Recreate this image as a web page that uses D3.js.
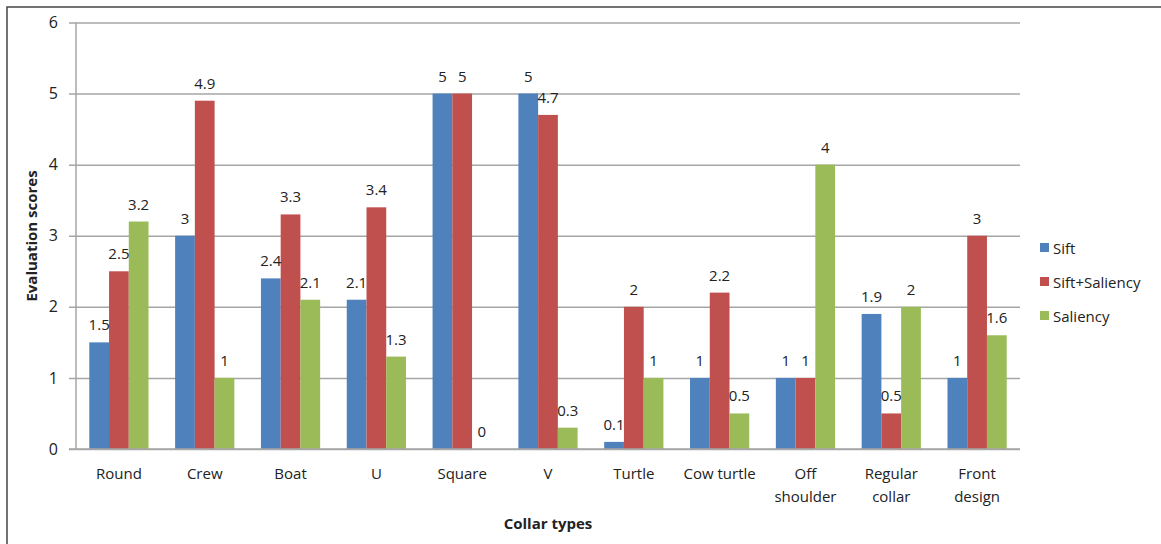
<!DOCTYPE html>
<html>
<head>
<meta charset="utf-8">
<script src="https://cdn.jsdelivr.net/npm/d3@7"></script>
<style>
  html, body { margin: 0; padding: 0; background: #fff; }
  svg { display: block; }
  text { font-family: "Open Sans", "Liberation Sans", sans-serif; fill: #222; }
</style>
</head>
<body>
<svg id="chart" width="1161" height="544"></svg>
<script>
// Collar types and the three scoring methods
const categories = ["Round", "Crew", "Boat", "U", "Square", "V", "Turtle", "Cow turtle", "Off shoulder", "Regular collar", "Front design"];
const seriesNames = ["Sift", "Sift+Saliency", "Saliency"];
const sift = [1.5, 3, 2.4, 2.1, 5, 5, 0.1, 1, 1, 1.9, 1];
const siftSaliency = [2.5, 4.9, 3.3, 3.4, 5, 4.7, 2, 2.2, 1, 0.5, 3];
const saliency = [3.2, 1, 2.1, 1.3, 0, 0.3, 1, 0.5, 4, 2, 1.6];
const yTicks = [0, 1, 2, 3, 4, 5, 6];
const colors = ["#4f81bd", "#c0504d", "#9bbb59"];

const seriesValues = [sift, siftSaliency, saliency];
const rows = categories.map((c, i) => ({
  category: c,
  values: seriesNames.map((s, k) => ({ series: s, value: seriesValues[k][i], color: colors[k] }))
}));

const svg = d3.select("#chart");

// outer frame (left and top edges visible)
svg.append("rect")
  .attr("x", 7).attr("y", 7).attr("width", 1300).attr("height", 700)
  .attr("fill", "none").attr("stroke", "#444").attr("stroke-width", 1.5);

const plot = { left: 76, right: 1020, top: 22.5, bottom: 449 };

const x0 = d3.scaleBand().domain(categories).range([plot.left, plot.right]).padding(0);
const bw = x0.bandwidth();
const x1 = d3.scaleBand().domain(seriesNames).range([bw * 0.155, bw * 0.845]).padding(0);
const y = d3.scaleLinear().domain([0, 6]).range([plot.bottom, plot.top]);

// horizontal gridlines and y axis ticks
const yAxis = d3.axisLeft(y).tickValues(yTicks).tickSize(-(plot.right - plot.left)).tickFormat(d3.format("d"));
const gy = svg.append("g").attr("transform", `translate(${plot.left},0)`).call(yAxis);
gy.select(".domain").remove();
gy.selectAll(".tick line").attr("stroke", "#a6a6a6").attr("stroke-width", 1.5).attr("x1", -7);
gy.selectAll(".tick text").attr("x", -18).attr("font-size", 16).attr("fill", "#222")
  .attr("font-family", "'Open Sans', sans-serif");

// vertical axis line
svg.append("line")
  .attr("x1", plot.left).attr("x2", plot.left)
  .attr("y1", plot.top).attr("y2", plot.bottom)
  .attr("stroke", "#a6a6a6").attr("stroke-width", 1.5);

// bars
const groups = svg.append("g").selectAll("g").data(rows).join("g")
  .attr("transform", d => `translate(${x0(d.category)},0)`);

groups.selectAll("rect").data(d => d.values).join("rect")
  .attr("x", d => x1(d.series))
  .attr("y", d => y(d.value))
  .attr("width", x1.bandwidth())
  .attr("height", d => y(0) - y(d.value))
  .attr("fill", d => d.color);

// value labels
groups.selectAll("text.val").data(d => d.values).join("text")
  .attr("class", "val")
  .attr("x", d => x1(d.series) + x1.bandwidth() / 2)
  .attr("y", d => y(d.value) - 12)
  .attr("text-anchor", "middle")
  .attr("font-size", 15)
  .text(d => d.value);

// baseline
svg.append("line")
  .attr("x1", plot.left - 7).attr("x2", plot.right)
  .attr("y1", plot.bottom).attr("y2", plot.bottom)
  .attr("stroke", "#a6a6a6").attr("stroke-width", 1.5);

// category labels, wrapped onto two lines where needed
const wrap = { "Off shoulder": ["Off", "shoulder"], "Regular collar": ["Regular", "collar"], "Front design": ["Front", "design"] };
const xl = svg.append("g");
categories.forEach(c => {
  const lines = wrap[c] || [c];
  const t = xl.append("text")
    .attr("x", x0(c) + bw / 2)
    .attr("y", 479)
    .attr("text-anchor", "middle")
    .attr("font-size", 15);
  lines.forEach((ln, i) => {
    t.append("tspan").attr("x", x0(c) + bw / 2).attr("dy", i === 0 ? 0 : 23).text(ln);
  });
});

// axis titles
svg.append("text")
  .attr("x", 548).attr("y", 529)
  .attr("text-anchor", "middle")
  .attr("font-size", 15).attr("font-weight", "bold")
  .text("Collar types");

svg.append("text")
  .attr("transform", "translate(37,236) rotate(-90)")
  .attr("text-anchor", "middle")
  .attr("font-size", 15).attr("font-weight", "bold")
  .text("Evaluation scores");

// legend
const legend = svg.append("g").selectAll("g").data(seriesNames).join("g")
  .attr("transform", (d, i) => `translate(1040,${248 + i * 34})`);
legend.append("rect").attr("x", 0).attr("y", -5).attr("width", 9).attr("height", 9)
  .attr("fill", (d, i) => colors[i]);
legend.append("text").attr("x", 13).attr("y", 5.5).attr("font-size", 15).text(d => d);
</script>
</body>
</html>
